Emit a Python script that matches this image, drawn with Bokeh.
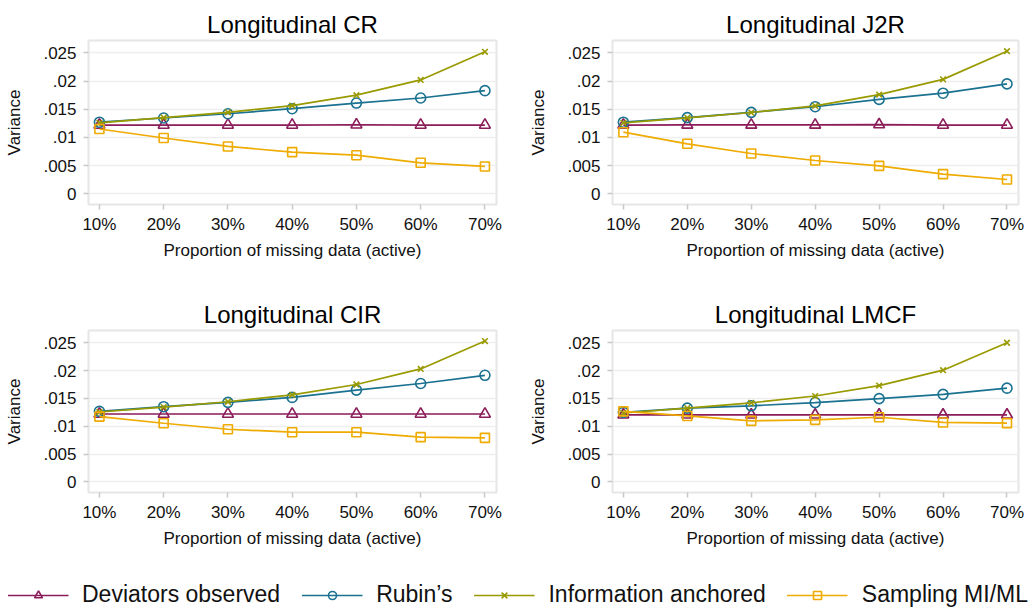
from bokeh.plotting import figure
from bokeh.layouts import column, row
from bokeh.models import Range1d, FixedTicker, CustomJSTickFormatter, Legend, LegendItem
from bokeh.embed import file_html
from bokeh.resources import INLINE

# ---------------- data ----------------
proportions = [10, 20, 30, 40, 50, 60, 70]
x_tick_labels = ["10%", "20%", "30%", "40%", "50%", "60%", "70%"]
y_ticks = [0, 0.005, 0.01, 0.015, 0.02, 0.025]
y_tick_labels = ["0", ".005", ".01", ".015", ".02", ".025"]

series_names = ["Deviators observed", "Rubin\u2019s", "Information anchored", "Sampling MI/ML"]
panel_titles = ["Longitudinal CR", "Longitudinal J2R", "Longitudinal CIR", "Longitudinal LMCF"]

# Longitudinal CR
cr_deviators = [0.0122, 0.0122, 0.0122, 0.0122, 0.01225, 0.0122, 0.0122]
cr_rubin = [0.0127, 0.01345, 0.0142, 0.0151, 0.0161, 0.0170, 0.0183]
cr_info = [0.0126, 0.0135, 0.01445, 0.01565, 0.0175, 0.0202, 0.0252]
cr_sampling = [0.0115, 0.0099, 0.0084, 0.0074, 0.00685, 0.0055, 0.00485]

# Longitudinal J2R
j2r_deviators = [0.0122, 0.01222, 0.01222, 0.01222, 0.01228, 0.0122, 0.0122]
j2r_rubin = [0.0127, 0.01352, 0.01445, 0.01545, 0.01675, 0.01785, 0.0195]
j2r_info = [0.0126, 0.01348, 0.01442, 0.0156, 0.0176, 0.0203, 0.0253]
j2r_sampling = [0.01093, 0.00887, 0.00715, 0.00591, 0.00496, 0.00349, 0.00254]

# Longitudinal CIR
cir_deviators = [0.0122, 0.0122, 0.0122, 0.0122, 0.0122, 0.0122, 0.0122]
cir_rubin = [0.01268, 0.01351, 0.01429, 0.01518, 0.01649, 0.01768, 0.01915]
cir_info = [0.01256, 0.01345, 0.0144, 0.01565, 0.0175, 0.0203, 0.0253]
cir_sampling = [0.01173, 0.01054, 0.00946, 0.00893, 0.00893, 0.00804, 0.00792]

# Longitudinal LMCF
lmcf_deviators = [0.01205, 0.01205, 0.01205, 0.01205, 0.01205, 0.01205, 0.01205]
lmcf_rubin = [0.0125, 0.01326, 0.01367, 0.01426, 0.01496, 0.01573, 0.01684]
lmcf_info = [0.01238, 0.01326, 0.0142, 0.01543, 0.01731, 0.02007, 0.0250]
lmcf_sampling = [0.01268, 0.01185, 0.01097, 0.01115, 0.01162, 0.01068, 0.01056]

# ---------------- style ----------------
FONT = "Liberation Sans"
colors = ["#8C1D5B", "#1B7290", "#999A00", "#EFAB00"]
markers = ["triangle", "circle", "x", "square"]
marker_sizes = [11, 10, 8, 9]
TEXT = "#111111"


def make_panel(title, data, width, height, left, right, top, bottom):
    p = figure(width=width, height=height, output_backend="svg", toolbar_location=None,
               x_range=Range1d(8.3, 71.8), y_range=Range1d(-0.0019, 0.0272),
               min_border_left=left, min_border_right=right, min_border_top=top,
               min_border_bottom=bottom, background_fill_color="white",
               border_fill_color="white", outline_line_color="#E6E6E6",
               outline_line_width=2)
    p.title.text = title
    p.title.align = "center"
    p.title.text_font = FONT
    p.title.text_font_size = "24px"
    p.title.text_font_style = "normal"
    p.title.text_color = "#000000"
    p.title.standoff = 5

    for vals, c, m, s in zip(data, colors, markers, marker_sizes):
        p.line(proportions, vals, line_color=c, line_width=1.7)
        p.scatter(proportions, vals, marker=m, size=s, line_color=c, line_width=1.6,
                  fill_alpha=0)

    p.xaxis.ticker = FixedTicker(ticks=proportions)
    p.xaxis.formatter = CustomJSTickFormatter(
        args=dict(vals=proportions, labels=x_tick_labels),
        code="const i = vals.indexOf(tick); return i >= 0 ? labels[i] : '';")
    p.yaxis.ticker = FixedTicker(ticks=y_ticks)
    p.yaxis.formatter = CustomJSTickFormatter(
        args=dict(vals=y_ticks, labels=y_tick_labels),
        code="for (let i = 0; i < vals.length; i++) { if (Math.abs(vals[i] - tick) < 1e-9) return labels[i]; } return '';")

    p.xaxis.axis_label = "Proportion of missing data (active)"
    p.yaxis.axis_label = "Variance"
    for ax in (p.xaxis, p.yaxis):
        ax.axis_line_color = None
        ax.major_tick_line_color = "#C8C8C8"
        ax.major_tick_line_width = 1.5
        ax.major_tick_out = 5
        ax.major_tick_in = 0
        ax.minor_tick_line_color = None
        ax.major_label_text_font = FONT
        ax.major_label_text_font_size = "17px"
        ax.major_label_text_color = TEXT
        ax.axis_label_text_font = FONT
        ax.axis_label_text_font_size = "17px"
        ax.axis_label_text_font_style = "normal"
        ax.axis_label_text_color = TEXT
    p.xaxis.major_label_standoff = 5
    p.yaxis.major_label_standoff = 7
    p.xaxis.axis_label_standoff = 4
    p.yaxis.axis_label_standoff = 16
    p.yaxis.major_label_orientation = "horizontal"

    p.xgrid.visible = False
    p.ygrid.grid_line_color = "#EEEEEE"
    p.ygrid.grid_line_width = 1.5
    return p


p1 = make_panel(panel_titles[0], [cr_deviators, cr_rubin, cr_info, cr_sampling], 520, 296, 88, 24, 40, 92)
p2 = make_panel(panel_titles[1], [j2r_deviators, j2r_rubin, j2r_info, j2r_sampling], 515, 296, 92, 17, 40, 92)
p3 = make_panel(panel_titles[2], [cir_deviators, cir_rubin, cir_info, cir_sampling], 520, 276, 88, 24, 32, 80)
p4 = make_panel(panel_titles[3], [lmcf_deviators, lmcf_rubin, lmcf_info, lmcf_sampling], 515, 276, 92, 17, 32, 80)

# ---------------- legend ----------------
# legend-only figure: its renderers carry the CR series but sit outside its (0..1) view
lf = figure(width=1035, height=42, output_backend="svg", toolbar_location=None,
            x_range=Range1d(0, 1), y_range=Range1d(0, 1), x_axis_type=None, y_axis_type=None,
            min_border=0, outline_line_color=None, background_fill_color="white",
            border_fill_color="white")
lf.grid.visible = False
items = []
for name, vals, c, m in zip(series_names, [cr_deviators, cr_rubin, cr_info, cr_sampling], colors, markers):
    lr = lf.line(proportions, vals, line_color=c, line_width=1.7)
    sr = lf.scatter(proportions, vals, marker=m, line_color=c, line_width=1.6, fill_alpha=0)
    items.append(LegendItem(label=name, renderers=[lr, sr]))
legend = Legend(items=items, orientation="horizontal", location="bottom_center",
                glyph_width=61, glyph_height=20, label_height=20, label_standoff=14,
                spacing=21, padding=0, margin=6, border_line_color=None,
                background_fill_alpha=0, label_text_font=FONT, label_text_font_size="23px",
                label_text_color=TEXT)
lf.add_layout(legend, "center")

layout = column(row(p1, p2), row(p3, p4), lf)
open("out.html", "w").write(file_html(layout, INLINE))
